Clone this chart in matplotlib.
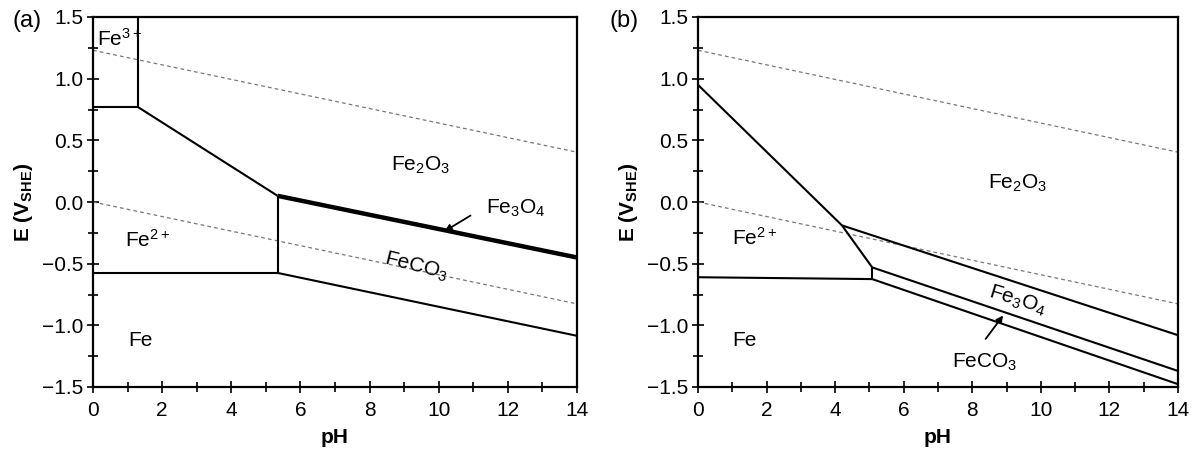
import matplotlib
matplotlib.use("Agg")
import matplotlib.pyplot as plt
import numpy as np

plt.rcParams['font.family'] = ['Liberation Sans', 'DejaVu Sans']
plt.rcParams['mathtext.fontset'] = 'custom'
plt.rcParams['mathtext.rm'] = 'Liberation Sans'
plt.rcParams['mathtext.it'] = 'Liberation Sans:italic'
plt.rcParams['mathtext.bf'] = 'Liberation Sans:bold'

# ---------------- data: panel (a) ----------------
a_fe3_fe2_pH = [0.0, 1.3]
a_fe3_fe2_E = [0.77, 0.77]
a_fe3_vert_pH = [1.3, 1.3]
a_fe3_vert_E = [0.77, 1.5]
a_fe2_fe2o3_pH = [1.3, 5.34]
a_fe2_fe2o3_E = [0.77, 0.05]
a_fe2_feco3_pH = [5.34, 5.34]
a_fe2_feco3_E = [0.05, -0.575]
a_fe_fe2_pH = [0.0, 5.34]
a_fe_fe2_E = [-0.575, -0.575]
a_fe3o4_pH = [5.34, 14.0]
a_fe3o4_E = [0.05, -0.45]
a_fe_feco3_pH = [5.34, 14.0]
a_fe_feco3_E = [-0.575, -1.085]

# ---------------- data: panel (b) ----------------
b_steep_pH = [0.0, 4.2, 5.08]
b_steep_E = [0.95, -0.19, -0.53]
b_upper_pH = [4.2, 14.0]
b_upper_E = [-0.19, -1.08]
b_middle_pH = [5.08, 14.0]
b_middle_E = [-0.53, -1.37]
b_vert_pH = [5.08, 5.08]
b_vert_E = [-0.53, -0.625]
b_lower_pH = [5.08, 14.0]
b_lower_E = [-0.625, -1.477]
b_fe_fe2_pH = [0.0, 5.08]
b_fe_fe2_E = [-0.61, -0.625]

# water stability lines
water_pH = [0.0, 14.0]
water_O2_E = [1.23, 0.404]
water_H2_E = [0.0, -0.826]

x_ticks = [0, 2, 4, 6, 8, 10, 12, 14]
y_ticks = [-1.5, -1.0, -0.5, 0.0, 0.5, 1.0, 1.5]
y_tick_labels = ['\u22121.5', '\u22121.0', '\u22120.5', '0.0', '0.5', '1.0', '1.5']

fig = plt.figure(figsize=(11.96, 4.49), dpi=100)
axA = fig.add_axes([93/1196, 62/449, 484/1196, 370/449])
axB = fig.add_axes([698/1196, 62/449, 480/1196, 370/449])

LW = 1.5
TXT = 15


def style(ax):
    ax.set_xlim(0, 14)
    ax.set_ylim(-1.5, 1.5)
    ax.set_xticks(x_ticks)
    ax.set_xticks(np.arange(0, 15, 1), minor=True)
    ax.set_yticks(y_ticks)
    ax.set_yticklabels(y_tick_labels)
    ax.set_yticks(np.arange(-1.5, 1.51, 0.25), minor=True)
    ax.tick_params(which='both', direction='inout', labelsize=15, width=1.2,
                   top=False, right=False)
    ax.tick_params(axis='y', pad=3)
    ax.tick_params(axis='x', pad=6)
    ax.tick_params(which='major', length=8)
    ax.tick_params(which='minor', length=7)
    for s in ax.spines.values():
        s.set_linewidth(1.6)
    ax.set_xlabel('pH', fontsize=15, fontweight='bold', labelpad=6)
    ax.set_ylabel(r'E (V$_{\mathbf{SHE}}$)', fontsize=15, fontweight='bold', labelpad=5)
    ax.plot(water_pH, water_O2_E, color='#777777', lw=0.9, ls=(0, (3, 2.5)))
    ax.plot(water_pH, water_H2_E, color='#777777', lw=0.9, ls=(0, (3, 2.5)))


# ---------- panel (a) ----------
style(axA)
k = dict(color='black', lw=LW, solid_capstyle='butt')
axA.plot(a_fe3_fe2_pH, a_fe3_fe2_E, **k)
axA.plot(a_fe3_vert_pH, a_fe3_vert_E, **k)
axA.plot(a_fe2_fe2o3_pH, a_fe2_fe2o3_E, **k)
axA.plot(a_fe2_feco3_pH, a_fe2_feco3_E, **k)
axA.plot(a_fe_fe2_pH, a_fe_fe2_E, **k)
axA.plot(a_fe3o4_pH, a_fe3o4_E, color='black', lw=3.2, solid_capstyle='butt')
axA.plot(a_fe_feco3_pH, a_fe_feco3_E, **k)

axA.text(0.12, 1.32, r'Fe$^{3+}$', fontsize=TXT, ha='left', va='center')
axA.text(9.48, 0.30, r'Fe$_2$O$_3$', fontsize=TXT, ha='center', va='center')
axA.text(12.22, -0.05, r'Fe$_3$O$_4$', fontsize=TXT, ha='center', va='center')
axA.annotate('', xy=(10.17, -0.237), xytext=(10.92, -0.11),
             arrowprops=dict(arrowstyle='-|>', color='black', lw=1.3,
                             mutation_scale=10, shrinkA=0, shrinkB=0))
axA.text(9.35, -0.52, r'FeCO$_3$', fontsize=TXT, ha='center', va='center', rotation=-14)
axA.text(1.58, -0.31, r'Fe$^{2+}$', fontsize=TXT, ha='center', va='center')
axA.text(1.36, -1.12, 'Fe', fontsize=TXT, ha='center', va='center')

# ---------- panel (b) ----------
style(axB)
axB.plot(b_steep_pH, b_steep_E, **k)
axB.plot(b_upper_pH, b_upper_E, **k)
axB.plot(b_middle_pH, b_middle_E, **k)
axB.plot(b_vert_pH, b_vert_E, **k)
axB.plot(b_lower_pH, b_lower_E, **k)
axB.plot(b_fe_fe2_pH, b_fe_fe2_E, **k)

axB.text(9.32, 0.15, r'Fe$_2$O$_3$', fontsize=TXT, ha='center', va='center')
axB.text(1.65, -0.29, r'Fe$^{2+}$', fontsize=TXT, ha='center', va='center')
axB.text(1.36, -1.12, 'Fe', fontsize=TXT, ha='center', va='center')
axB.text(9.32, -0.80, r'Fe$_3$O$_4$', fontsize=TXT, ha='center', va='center', rotation=-17)
axB.annotate('', xy=(8.9, -0.92), xytext=(8.39, -1.11),
             arrowprops=dict(arrowstyle='-|>', color='black', lw=1.3,
                             mutation_scale=10, shrinkA=0, shrinkB=0))
axB.text(8.36, -1.30, r'FeCO$_3$', fontsize=TXT, ha='center', va='center')

fig.text(12/1196, 1 - 21/449, '(a)', fontsize=17, ha='left', va='center')
fig.text(609/1196, 1 - 21/449, '(b)', fontsize=17, ha='left', va='center')

fig.savefig('out.png', dpi=100)
